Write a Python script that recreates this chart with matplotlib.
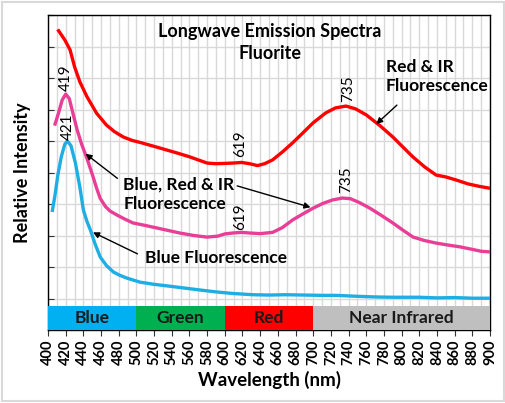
import matplotlib
matplotlib.use("Agg")
import matplotlib.pyplot as plt
from matplotlib.patches import Rectangle

plt.rcParams['font.family'] = ['Lato', 'DejaVu Sans']

# spectra (wavelength nm, relative intensity)
red_nm = [412, 419, 425, 430, 436, 444, 455, 466, 475, 485, 495, 505, 515, 530,
          546, 560, 570, 580, 590, 600, 609, 619, 628, 637, 645, 654, 665, 677, 688, 700, 714, 725,
          737, 748, 760, 775, 790, 800, 813, 826, 839, 850, 862, 875, 888, 900]
red_val = [8.5, 8.21, 7.89, 7.36, 6.88, 6.41, 5.88, 5.51, 5.3, 5.13, 5.02, 4.95,
           4.87, 4.75, 4.62, 4.5, 4.4, 4.3, 4.28, 4.29, 4.3, 4.32, 4.28, 4.22, 4.28, 4.4, 4.65, 4.95,
           5.25, 5.58, 5.89, 6.05, 6.11, 6.02, 5.83, 5.5, 5.13, 4.85, 4.49, 4.18, 3.92, 3.86, 3.76,
           3.64, 3.56, 3.5]

pink_nm = [408, 412, 416, 420, 424, 428, 433, 438, 444, 450, 455, 459, 465, 470, 478, 487, 496, 510,
           523, 536, 549, 565, 580, 592, 600, 609, 619, 628, 640, 654, 665, 677, 688, 700, 711, 722,
           733, 742, 752, 764, 777, 790, 802, 813, 826, 839, 852, 866, 880, 890, 900]
pink_val = [5.54, 5.9, 6.3, 6.49, 6.35, 5.9, 5.35, 4.9, 4.45, 3.95, 3.5, 3.18, 2.92, 2.78, 2.65,
            2.52, 2.4, 2.32, 2.24, 2.16, 2.08, 2.0, 1.95, 1.98, 2.05, 2.08, 2.1, 2.08, 2.06, 2.1,
            2.25, 2.5, 2.68, 2.87, 3.02, 3.13, 3.19, 3.17, 3.05, 2.87, 2.64, 2.4, 2.16, 1.95, 1.84,
            1.76, 1.7, 1.64, 1.56, 1.5, 1.48]

blue_nm = [405, 408, 411, 415, 419, 422, 426, 431, 436, 440, 444, 448, 453, 459, 466, 474, 481, 489,
           504, 520, 535, 555, 572, 590, 609, 632, 650, 669, 690, 710, 726, 750, 770, 790, 820,
           840, 860, 880, 900]
blue_val = [2.8, 3.3, 3.9, 4.5, 4.9, 5.0, 4.85, 4.3, 3.54, 2.81, 2.45, 2.17, 1.75, 1.32, 1.05, 0.84,
            0.74, 0.65, 0.52, 0.45, 0.4, 0.33, 0.27, 0.21, 0.16, 0.12, 0.11, 0.12, 0.11, 0.1,
            0.1, 0.07, 0.05, 0.04, 0.04, 0.02, 0.03, 0.01, 0.01]

bands = ['Blue', 'Green', 'Red', 'Near Infrared']
band_start = [400, 500, 600, 700]
band_end = [500, 600, 700, 900]
band_colors = ['#00B0F0', '#00B050', '#FF0000', '#BFBFBF']

fig = plt.figure(figsize=(5.06, 4.03), dpi=100)
fig.patches.append(Rectangle((0.004, 0.005), 0.992, 0.99, transform=fig.transFigure,
                             fill=False, edgecolor='#D9D9D9', linewidth=1.5))
ax = fig.add_axes([0.0949, 0.1811, 0.8735, 0.7816])

ax.plot(red_nm, red_val, color='#FF0000', lw=2.4, zorder=3)
ax.plot(pink_nm, pink_val, color='#E93E96', lw=2.4, zorder=3)
ax.plot(blue_nm, blue_val, color='#1FAEE3', lw=2.4, zorder=3)

# spectral colour band under the plot
for name, s, e, c in zip(bands, band_start, band_end, band_colors):
    ax.add_patch(Rectangle((s, -1), e - s, 0.76, facecolor=c, edgecolor='none', zorder=4))
    ax.text((s + e) / 2, -0.62, name, ha='center', va='center', fontsize=12.5,
            fontweight='bold', color='#1a1a1a', zorder=5)

ax.set_xlim(400, 900)
ax.set_ylim(-1, 9)
ax.set_xticks(range(400, 901, 20))
ax.set_xticks(range(400, 901, 10), minor=True)
ax.set_yticks(range(0, 10))
ax.set_yticklabels([])
ax.tick_params(axis='x', which='major', labelrotation=90, labelsize=10.5, length=4,
               color='#333333', pad=3)
ax.tick_params(axis='x', which='minor', length=0)
ax.tick_params(axis='y', direction='in', length=4, color='#333333')
ax.grid(True, which='both', axis='x', color='#D9D9D9', lw=1)
ax.grid(True, axis='y', color='#D9D9D9', lw=1)
for sp in ax.spines.values():
    sp.set_color('#000000')
    sp.set_linewidth(1)
for lab in ax.get_xticklabels():
    lab.set_fontweight('bold')

ax.set_xlabel('Wavelength (nm)', fontsize=13.5, fontweight='bold', labelpad=4)
ax.set_ylabel('Relative Intensity', fontsize=13, fontweight='bold', labelpad=9)

ax.text(651, 8.13, 'Longwave Emission Spectra\nFluorite', ha='center', va='center',
        fontsize=13, fontweight='bold', linespacing=1.3)

# peak labels
peaks = [(420, 7.0, '419'), (422, 5.45, '421'), (617, 4.9, '619'), (617, 2.59, '619'),
         (739, 6.65, '735'), (737, 3.76, '735')]
for px, py, t in peaks:
    ax.text(px, py, t, rotation=90, ha='center', va='center', fontsize=11)

ax.text(782, 7.05, 'Red & IR\nFluorescence', ha='left', va='center', fontsize=12.5,
        fontweight='bold', linespacing=1.25)
ax.annotate('', xy=(769, 5.48), xytext=(797, 6.2),
            arrowprops=dict(arrowstyle='-|>', color='black', lw=1, mutation_scale=9))

ax.text(485, 3.32, 'Blue, Red & IR\nFluorescence', ha='left', va='center', fontsize=12.5,
        fontweight='bold', linespacing=1.25)
ax.annotate('', xy=(440, 4.65), xytext=(481, 3.76),
            arrowprops=dict(arrowstyle='-|>', color='black', lw=1, mutation_scale=9))
ax.annotate('', xy=(700, 2.87), xytext=(611, 3.6),
            arrowprops=dict(arrowstyle='-|>', color='black', lw=1, mutation_scale=9))

ax.text(510, 1.29, 'Blue Fluorescence', ha='left', va='center', fontsize=12.5, fontweight='bold')
ax.annotate('', xy=(448, 2.14), xytext=(504, 1.38),
            arrowprops=dict(arrowstyle='-|>', color='black', lw=1, mutation_scale=9))

fig.savefig('out.png', dpi=100)
